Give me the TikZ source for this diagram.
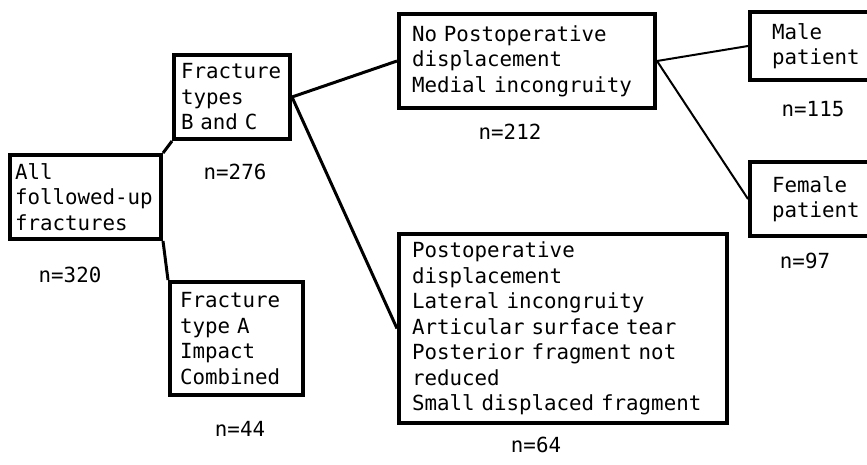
\documentclass[tikz,border=0pt]{standalone}
\usepackage{fontspec}
\newfontfamily\typefont{DejaVu Sans Mono}
\newcommand\typesize{\typefont\fontsize{20.8}{25.5}\selectfont\fontdimen2\font=0.602em\fontdimen3\font=0pt\fontdimen4\font=0pt}
\begin{document}
\begin{tikzpicture}[x=1pt, y=-1pt,
  box/.style={draw, line width=4pt, anchor=north west, align=left, inner ysep=0pt, font=\typesize},
  count/.style={font=\typesize},
  link/.style={line width=3pt},
  thinlink/.style={line width=2pt}]
\useasboundingbox (0,0) rectangle (867,464);
\node[box, text width=141pt, inner xsep=5pt, minimum height=84pt] (A) at (8,153) {All\\followed-up\\fractures};
\node[box, text width=102pt, inner xsep=7pt, minimum height=84pt] (BC) at (172,53) {Fracture\\types\\B and C};
\node[box, text width=113pt, inner xsep=10pt, minimum height=113pt] (TA) at (168,280) {Fracture\\type A\\Impact\\Combined};
\node[box, text width=230pt, inner xsep=13pt, minimum height=94pt] (ND) at (397,12) {No Postoperative\\displacement\\Medial incongruity};
\node[box, text width=302pt, inner xsep=13pt, minimum height=189pt] (D) at (397,232) {Postoperative\\displacement\\Lateral incongruity\\Articular surface tear\\Posterior fragment not\\reduced\\Small displaced fragment};
\node[box, text width=93pt, inner xsep=22pt, minimum height=68pt] (M) at (748,10) {Male\\patient};
\node[box, text width=93pt, inner xsep=22pt, minimum height=74pt] (F) at (748,160) {Female\\patient};
\node[count] (nA) at (70,275) {n=320};
\node[count] (nBC) at (235,172) {n=276};
\node[count] (nTA) at (240,429) {n=44};
\node[count] (nND) at (510,132) {n=212};
\node[count] (nD) at (536,445) {n=64};
\node[count] (nM) at (813,109) {n=115};
\node[count] (nF) at (805,261) {n=97};
\draw[link] (A.north east) -- (BC.south west);
\draw[link] (A.south east) -- (TA.north west);
\draw[link] (BC.east) -- (ND.west);
\draw[link] (BC.east) -- (D.west);
\draw[thinlink] (ND.east) -- (M.west);
\draw[thinlink] (ND.east) -- (F.west);
\end{tikzpicture}
\end{document}
